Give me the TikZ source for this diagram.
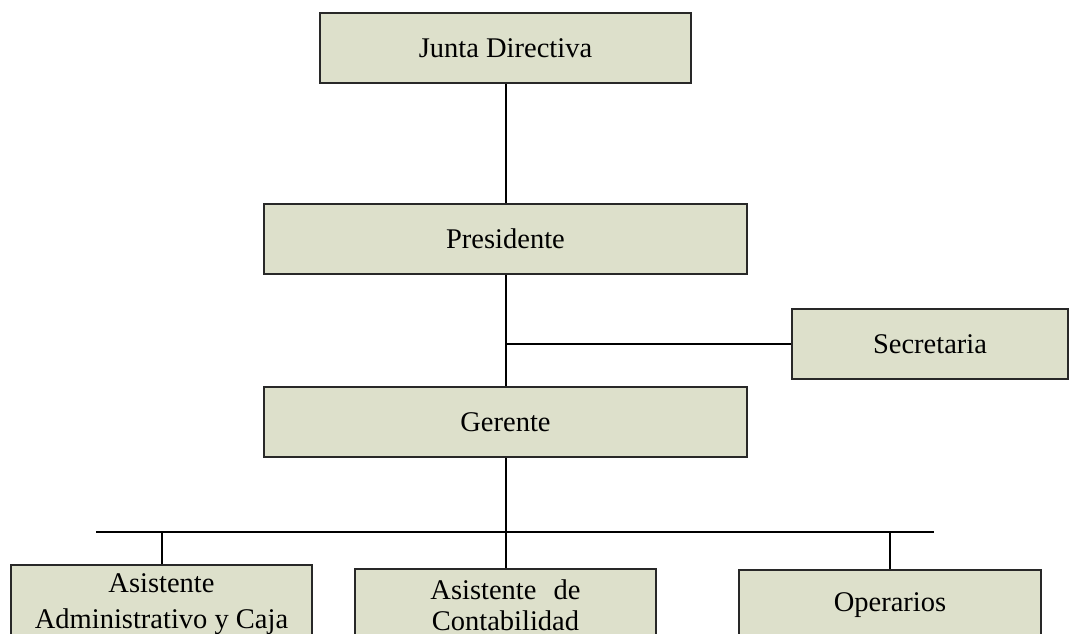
\documentclass[tikz,border=0pt]{standalone}
\usepackage{fontspec}
\setmainfont{Liberation Serif}
\definecolor{boxfill}{RGB}{221,224,203}
\definecolor{boxline}{RGB}{40,40,40}
\begin{document}
\begin{tikzpicture}[x=1pt,y=-1pt,
  orgbox/.style={draw=boxline,line width=2pt,fill=boxfill,rectangle,inner sep=0pt,
    font=\fontsize{28.5}{34}\selectfont},
  lbl/.style={inner sep=0pt,anchor=base,font=\fontsize{28.5}{34}\selectfont},
  conn/.style={line width=2pt,black}]
\useasboundingbox (0,0) rectangle (1070,633);
\clip (0,0) rectangle (1070,633);
\fill[white] (0,0) rectangle (1070,633);
% boxes
\node[orgbox,minimum width=371pt,minimum height=70pt] (J) at (505.5,48) {Junta Directiva};
\node[orgbox,minimum width=483pt,minimum height=70pt] (P) at (505.5,239) {Presidente};
\node[orgbox,minimum width=276pt,minimum height=70pt] (S) at (930,344) {Secretaria};
\node[orgbox,minimum width=483pt,minimum height=70pt] (G) at (505.5,422) {Gerente};
\node[orgbox,minimum width=301pt,minimum height=70pt] (A) at (161.5,600) {};
\node[orgbox,minimum width=301pt,minimum height=70pt] (C) at (505.5,604) {};
\node[orgbox,minimum width=302pt,minimum height=70pt] (O) at (890,605) {Operarios};
% texts of lower boxes
\node[lbl] (a1) at (161.5,592) {Asistente};
\node[lbl] (a2) at (161.5,628) {Administrativo y Caja};
\node[lbl] (c1) at (505.5,599) {Asistente\hspace{0.6em}de};
\node[lbl] (c2) at (505.5,630) {Contabilidad};
% connectors
\coordinate (sj) at (505.5,344);
\coordinate (bl) at (96,532);
\coordinate (br) at (934,532);
\coordinate (bm) at (505.5,532);
\draw[conn] (J.south) -- (P.north);
\draw[conn] (P.south) -- (G.north);
\draw[conn] (sj) -- (S.west);
\draw[conn] (bl) -- (br);
\draw[conn] (G.south) -- (bm);
\draw[conn] (A.north |- bl) -- (A.north);
\draw[conn] (bm) -- (C.north);
\draw[conn] (O.north |- br) -- (O.north);
\end{tikzpicture}
\end{document}
